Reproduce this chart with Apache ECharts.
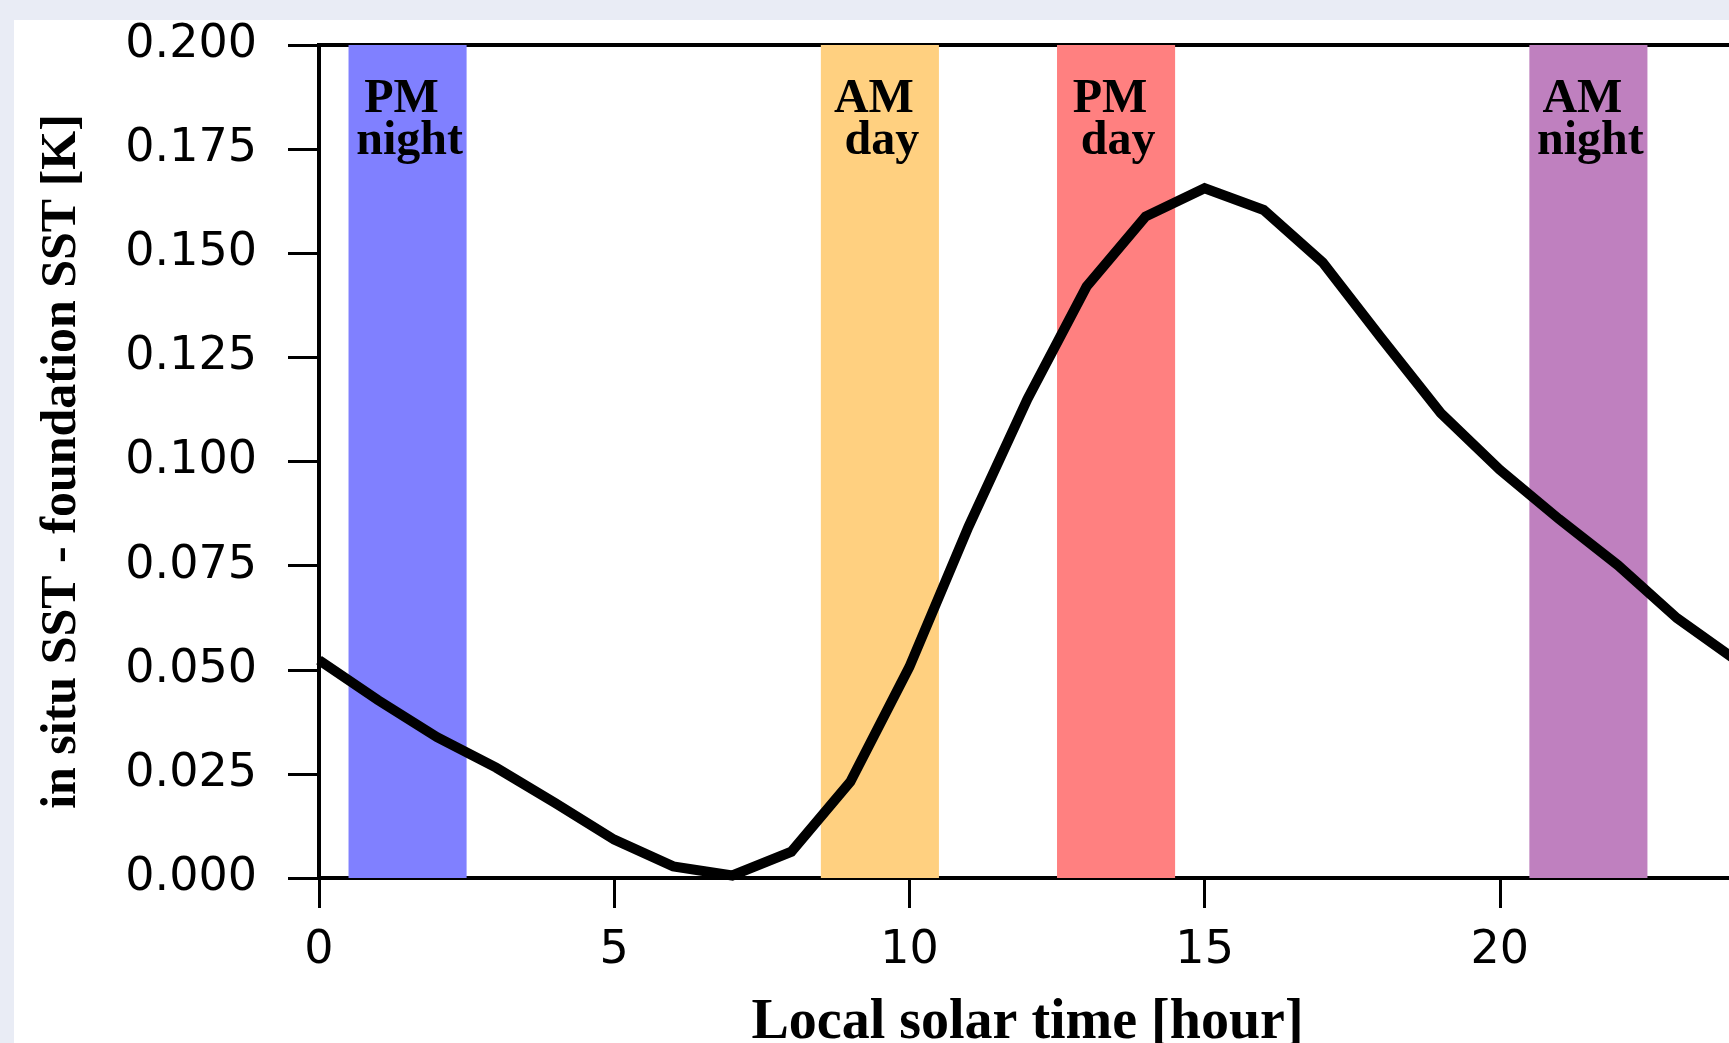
<!DOCTYPE html>
<html>
<head>
<meta charset="utf-8">
<script src="https://cdn.jsdelivr.net/npm/echarts@6/dist/echarts.min.js"></script>
<style>
  html, body { margin: 0; padding: 0; width: 1729px; height: 1043px; overflow: hidden; background: #e9ecf5; }
  #panel { position: absolute; left: 14px; top: 20px; width: 1800px; height: 1100px; background: #ffffff; }
  #chart { position: absolute; left: 0; top: 0; width: 1780px; height: 1043px; }
</style>
</head>
<body>
<div id="panel"></div>
<div id="chart"></div>
<script>
// Local solar time (hour) and in situ SST - foundation SST [K]
const hours = [0,1,2,3,4,5,6,7,8,9,10,11,12,13,14,15,16,17,18,19,20,21,22,23,24];
const sstDiff = [0.0523,0.0427,0.0338,0.0265,0.0180,0.0092,0.0028,0.0006,0.0063,0.0231,0.0507,0.0843,0.1150,0.1420,0.1588,0.1656,0.1604,0.1478,0.1295,0.1116,0.0980,0.0862,0.0751,0.0624,0.0523];

// Overpass windows
const bandTop = ['PM', 'AM', 'PM', 'AM'];
const bandBottom = ['night', 'day', 'day', 'night'];
const bandStart = [0.5, 8.5, 12.5, 20.5];
const bandEnd = [2.5, 10.5, 14.5, 22.5];
const bandColors = ['#8080ff', '#ffd080', '#ff8080', '#bf80bf'];

const xTickLabels = ['0', '5', '10', '15', '20'];
const yTicks = ['0.000','0.025','0.050','0.075','0.100','0.125','0.150','0.175','0.200'];

const serif = '"Liberation Serif", "Times New Roman", serif';
const sans = '"DejaVu Sans", sans-serif';

const chart = echarts.init(document.getElementById('chart'), null, { renderer: 'canvas' });

const markData = bandTop.map((top, i) => [
  { name: '{a|' + top + '}\n{b|' + bandBottom[i] + '}', xAxis: bandStart[i], itemStyle: { color: bandColors[i], opacity: 1 } },
  { xAxis: bandEnd[i] }
]);

const bandFont = { fontFamily: serif, fontWeight: 'bold', fontSize: 48, lineHeight: 42, color: '#000' };

chart.setOption({
  backgroundColor: 'transparent',
  animation: false,
  grid: {
    left: 319, top: 45, width: 1417, height: 833,
    outerBoundsMode: 'none',
    show: true, borderColor: '#000', borderWidth: 4, backgroundColor: 'transparent', containLabel: false
  },
  xAxis: {
    type: 'value', min: 0, max: 24, interval: 5,
    name: 'Local solar time [hour]',
    nameLocation: 'middle', nameGap: 118,
    nameTextStyle: { fontFamily: serif, fontWeight: 'bold', fontSize: 56, color: '#000' },
    axisLine: { show: true, onZero: false, lineStyle: { color: '#000', width: 4 } },
    axisTick: { show: true, length: 30, inside: false, lineStyle: { color: '#000', width: 3 } },
    axisLabel: { fontFamily: sans, fontSize: 46, color: '#000', margin: 50,
      formatter: v => { const i = Math.round(v / 5); return (v % 5 === 0 && i < xTickLabels.length) ? xTickLabels[i] : ''; } },
    splitLine: { show: false }
  },
  yAxis: {
    type: 'value', min: 0, max: 0.2, interval: 0.025,
    name: 'in situ SST - foundation SST [K]',
    nameLocation: 'middle', nameGap: 232,
    nameTextStyle: { fontFamily: serif, fontWeight: 'bold', fontSize: 50, color: '#000' },
    axisLine: { show: true, onZero: false, lineStyle: { color: '#000', width: 4 } },
    axisTick: { show: true, length: 31, inside: false, lineStyle: { color: '#000', width: 3 } },
    axisLabel: { fontFamily: sans, fontSize: 46, color: '#000', margin: 62,
      formatter: (v) => yTicks[Math.round(v / 0.025)] },
    splitLine: { show: false }
  },
  series: [{
    type: 'line',
    data: hours.map((h, i) => [h, sstDiff[i]]),
    showSymbol: false,
    symbol: 'none',
    lineStyle: { color: '#000', width: 10, join: 'miter' },
    z: 5,
    markArea: {
      silent: true,
      z: 1,
      label: {
        show: true, position: 'insideTop', distance: 34, align: 'center',
        fontFamily: serif, fontWeight: 'bold', fontSize: 48, lineHeight: 42, color: '#000',
        rich: {
          a: Object.assign({}, bandFont, { padding: [0, 12, 0, 0] }),
          b: Object.assign({}, bandFont, { padding: [0, 0, 0, 4] })
        }
      },
      data: markData
    }
  }]
});
</script>
</body>
</html>
